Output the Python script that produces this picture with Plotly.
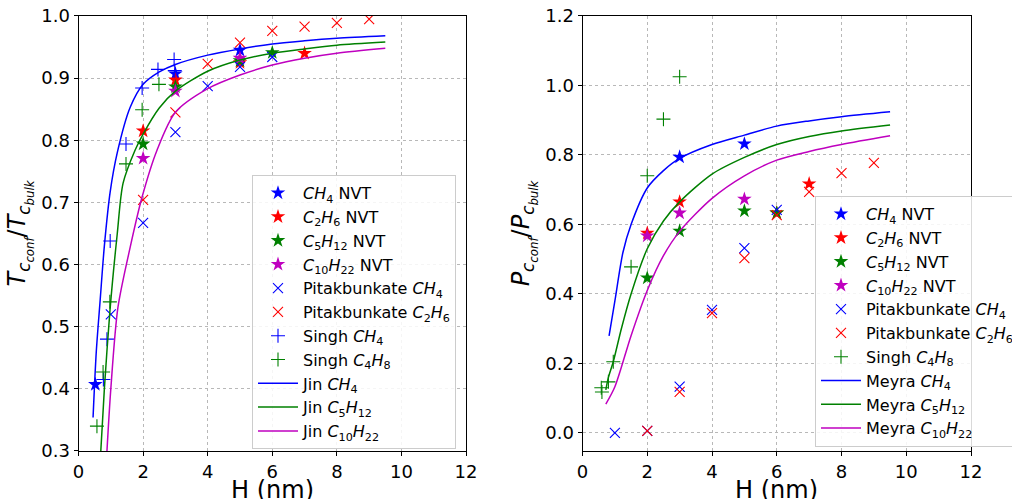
import plotly.graph_objects as go

# ---------------- Left panel: Tc_conf / Tc_bulk ----------------
H_ch4_nvt_T = [0.52, 3, 5]
T_ch4_nvt = [0.407, 0.907, 0.945]
H_c2h6_nvt_T = [2, 3, 5, 7]
T_c2h6_nvt = [0.815, 0.897, 0.925, 0.940]
H_c5h12_nvt_T = [2, 3, 5, 6]
T_c5h12_nvt = [0.794, 0.886, 0.928, 0.941]
H_c10h22_nvt_T = [2, 3, 5]
T_c10h22_nvt = [0.771, 0.879, 0.932]
H_pit_ch4_T = [1, 2, 3, 4, 5, 6]
T_pit_ch4 = [0.520, 0.667, 0.813, 0.887, 0.918, 0.934]
H_pit_c2h6_T = [2, 3, 4, 5, 6, 7, 8, 9]
T_pit_c2h6 = [0.704, 0.845, 0.923, 0.957, 0.976, 0.983, 0.989, 0.995]
H_singh_ch4_T = [0.77, 0.88, 0.98, 1.47, 1.97, 2.46, 2.96, 2.98]
T_singh_ch4 = [0.415, 0.480, 0.638, 0.794, 0.884, 0.914, 0.930, 0.912]
H_singh_c4h8_T = [0.57, 0.76, 0.97, 1.47, 1.97, 2.49]
T_singh_c4h8 = [0.340, 0.427, 0.540, 0.762, 0.849, 0.890]

H_jin_ch4 = [0.45, 0.55, 0.67, 0.8, 0.98, 1.2, 1.6, 2.0, 2.5, 3, 4, 5, 6, 7, 8, 9.5]
T_jin_ch4 = [0.354, 0.46, 0.543, 0.63, 0.717, 0.78, 0.853, 0.89, 0.91, 0.922, 0.937, 0.947, 0.955, 0.960, 0.964, 0.968]
H_jin_c5h12 = [0.69, 0.8, 0.975, 1.2, 1.38, 1.75, 2.0, 2.5, 3, 4, 5, 6, 7, 8, 9.5]
T_jin_c5h12 = [0.30, 0.40, 0.527, 0.65, 0.731, 0.784, 0.81, 0.852, 0.879, 0.911, 0.929, 0.940, 0.947, 0.953, 0.958]
H_jin_c10h22 = [0.88, 1.0, 1.22, 1.6, 1.97, 2.43, 3, 4, 5, 6, 7, 8, 9.5]
T_jin_c10h22 = [0.30, 0.40, 0.531, 0.628, 0.709, 0.784, 0.845, 0.883, 0.905, 0.921, 0.932, 0.940, 0.948]

# ---------------- Right panel: Pc_conf / Pc_bulk ----------------
H_ch4_nvt_P = [3, 5]
P_ch4_nvt = [0.794, 0.832]
H_c2h6_nvt_P = [2, 3, 6, 7]
P_c2h6_nvt = [0.575, 0.665, 0.633, 0.717]
H_c5h12_nvt_P = [2, 3, 5, 6]
P_c5h12_nvt = [0.446, 0.581, 0.639, 0.633]
H_c10h22_nvt_P = [2, 3, 5]
P_c10h22_nvt = [0.567, 0.633, 0.673]
H_pit_ch4_P = [1, 2, 3, 4, 5, 6]
P_pit_ch4 = [0.0, 0.006, 0.133, 0.354, 0.532, 0.642]
H_pit_c2h6_P = [2, 3, 4, 5, 6, 7, 8, 9]
P_pit_c2h6 = [0.006, 0.118, 0.345, 0.503, 0.627, 0.694, 0.748, 0.777]
H_singh_c4h8_P = [0.58, 0.60, 0.80, 0.95, 1.5, 2.0, 2.5, 3.0]
P_singh_c4h8 = [0.130, 0.118, 0.147, 0.205, 0.478, 0.740, 0.903, 1.025]

H_mey_ch4 = [0.82, 1.0, 1.25, 1.5, 2, 2.5, 3, 4, 5, 6, 7, 8, 9.5]
P_mey_ch4 = [0.279, 0.38, 0.52, 0.60, 0.705, 0.755, 0.79, 0.83, 0.857, 0.883, 0.898, 0.91, 0.924]
H_mey_c5h12 = [0.72, 0.8, 0.95, 1.2, 1.5, 2, 2.5, 3, 4, 5, 6, 7, 8, 9.5]
P_mey_c5h12 = [0.124, 0.16, 0.205, 0.30, 0.40, 0.53, 0.61, 0.665, 0.745, 0.793, 0.83, 0.853, 0.869, 0.886]
H_mey_c10h22 = [0.72, 1.0, 1.5, 2, 2.5, 3, 4, 5, 6, 7, 8, 9.5]
P_mey_c10h22 = [0.083, 0.133, 0.28, 0.41, 0.51, 0.58, 0.675, 0.74, 0.785, 0.81, 0.83, 0.855]

BLUE = "#0000ff"
RED = "#ff0000"
GREEN = "#008000"
MAG = "#bf00bf"

FONT = "DejaVu Sans"

CH4 = "<i>CH</i><sub>4</sub>"
C2H6 = "<i>C</i><sub>2</sub><i>H</i><sub>6</sub>"
C5H12 = "<i>C</i><sub>5</sub><i>H</i><sub>12</sub>"
C10H22 = "<i>C</i><sub>10</sub><i>H</i><sub>22</sub>"
C4H8 = "<i>C</i><sub>4</sub><i>H</i><sub>8</sub>"

fig = go.Figure()


def star(x, y, color, name, xa, ya, leg):
    fig.add_trace(go.Scatter(x=x, y=y, mode="markers", name=name, xaxis=xa, yaxis=ya, legend=leg,
                             marker=dict(symbol="star", size=11, color=color, line=dict(width=0))))


def xmark(x, y, color, name, xa, ya, leg):
    fig.add_trace(go.Scatter(x=x, y=y, mode="markers", name=name, xaxis=xa, yaxis=ya, legend=leg,
                             marker=dict(symbol="x-thin", size=10, color=color,
                                         line=dict(width=1.1, color=color))))


def plus(x, y, color, name, xa, ya, leg):
    fig.add_trace(go.Scatter(x=x, y=y, mode="markers", name=name, xaxis=xa, yaxis=ya, legend=leg,
                             marker=dict(symbol="cross-thin", size=10, color=color,
                                         line=dict(width=1.1, color=color))))


def curve(x, y, color, name, xa, ya, leg):
    fig.add_trace(go.Scatter(x=x, y=y, mode="lines", name=name, xaxis=xa, yaxis=ya, legend=leg,
                             line=dict(color=color, width=1.5, shape="spline", smoothing=0.8)))


# left panel
star(H_ch4_nvt_T, T_ch4_nvt, BLUE, CH4 + " NVT", "x", "y", "legend")
star(H_c2h6_nvt_T, T_c2h6_nvt, RED, C2H6 + " NVT", "x", "y", "legend")
star(H_c5h12_nvt_T, T_c5h12_nvt, GREEN, C5H12 + " NVT", "x", "y", "legend")
star(H_c10h22_nvt_T, T_c10h22_nvt, MAG, C10H22 + " NVT", "x", "y", "legend")
xmark(H_pit_ch4_T, T_pit_ch4, BLUE, "Pitakbunkate " + CH4, "x", "y", "legend")
xmark(H_pit_c2h6_T, T_pit_c2h6, RED, "Pitakbunkate " + C2H6, "x", "y", "legend")
plus(H_singh_ch4_T, T_singh_ch4, BLUE, "Singh " + CH4, "x", "y", "legend")
plus(H_singh_c4h8_T, T_singh_c4h8, GREEN, "Singh " + C4H8, "x", "y", "legend")
curve(H_jin_ch4, T_jin_ch4, BLUE, "Jin " + CH4, "x", "y", "legend")
curve(H_jin_c5h12, T_jin_c5h12, GREEN, "Jin " + C5H12, "x", "y", "legend")
curve(H_jin_c10h22, T_jin_c10h22, MAG, "Jin " + C10H22, "x", "y", "legend")

# right panel
star(H_ch4_nvt_P, P_ch4_nvt, BLUE, CH4 + " NVT", "x2", "y2", "legend2")
star(H_c2h6_nvt_P, P_c2h6_nvt, RED, C2H6 + " NVT", "x2", "y2", "legend2")
star(H_c5h12_nvt_P, P_c5h12_nvt, GREEN, C5H12 + " NVT", "x2", "y2", "legend2")
star(H_c10h22_nvt_P, P_c10h22_nvt, MAG, C10H22 + " NVT", "x2", "y2", "legend2")
xmark(H_pit_ch4_P, P_pit_ch4, BLUE, "Pitakbunkate " + CH4, "x2", "y2", "legend2")
xmark(H_pit_c2h6_P, P_pit_c2h6, RED, "Pitakbunkate " + C2H6, "x2", "y2", "legend2")
plus(H_singh_c4h8_P, P_singh_c4h8, GREEN, "Singh " + C4H8, "x2", "y2", "legend2")
curve(H_mey_ch4, P_mey_ch4, BLUE, "Meyra " + CH4, "x2", "y2", "legend2")
curve(H_mey_c5h12, P_mey_c5h12, GREEN, "Meyra " + C5H12, "x2", "y2", "legend2")
curve(H_mey_c10h22, P_mey_c10h22, MAG, "Meyra " + C10H22, "x2", "y2", "legend2")

axis_common = dict(showline=True, linecolor="black", linewidth=1, mirror=True,
                   ticks="outside", ticklen=4, tickcolor="black",
                   showgrid=True, gridcolor="#b8b8b8", griddash="dot", gridwidth=0.8,
                   zeroline=False, tickfont=dict(family=FONT, size=18, color="black"))

xticks = [0, 2, 4, 6, 8, 10, 12]

legend_common = dict(font=dict(family=FONT, size=16, color="black"),
                     bgcolor="rgba(255,255,255,0.85)", bordercolor="#cccccc", borderwidth=1,
                     xanchor="left", yanchor="top", tracegroupgap=0, itemwidth=40)

X1_DOM = [0.0776, 0.4605]
X2_DOM = [0.5756, 0.9595]

fig.update_layout(
    width=1012, height=499,
    paper_bgcolor="white", plot_bgcolor="white",
    margin=dict(l=0, r=0, t=0, b=0, autoexpand=False),
    font=dict(family=FONT, color="black"),
    xaxis=dict(domain=X1_DOM, range=[0, 12], tickvals=xticks, **axis_common),
    yaxis=dict(domain=[0.0962, 0.968], range=[0.3, 1.0], dtick=0.1, tickformat=".1f",
               title=dict(text="<i>T</i><sub><i>c</i><sub><i>conf</i></sub></sub>/<i>T</i><sub><i>c</i><sub><i>bulk</i></sub></sub>",
                          font=dict(family=FONT, size=24), standoff=8),
               **axis_common),
    xaxis2=dict(domain=X2_DOM, range=[0, 12], tickvals=xticks, anchor="y2", **axis_common),
    yaxis2=dict(domain=[0.0962, 0.968], range=[-0.052, 1.2], dtick=0.2, tickformat=".1f", anchor="x2",
                title=dict(text="<i>P</i><sub><i>c</i><sub><i>conf</i></sub></sub>/<i>P</i><sub><i>c</i><sub><i>bulk</i></sub></sub>",
                           font=dict(family=FONT, size=24), standoff=8),
                **axis_common),
    legend=dict(x=252 / 1012, y=1 - 175 / 499, **legend_common),
    legend2=dict(x=815 / 1012, y=1 - 196 / 499, **legend_common),
)

for dom in (X1_DOM, X2_DOM):
    fig.add_annotation(text="H (nm)", xref="paper", yref="paper",
                       x=(dom[0] + dom[1]) / 2, y=1 - 474 / 499,
                       xanchor="center", yanchor="top", showarrow=False,
                       font=dict(family=FONT, size=24, color="black"))

fig.write_html("out.html", config={"displayModeBar": False},
               post_script="document.body.style.margin='0px';document.body.style.overflow='hidden';")
